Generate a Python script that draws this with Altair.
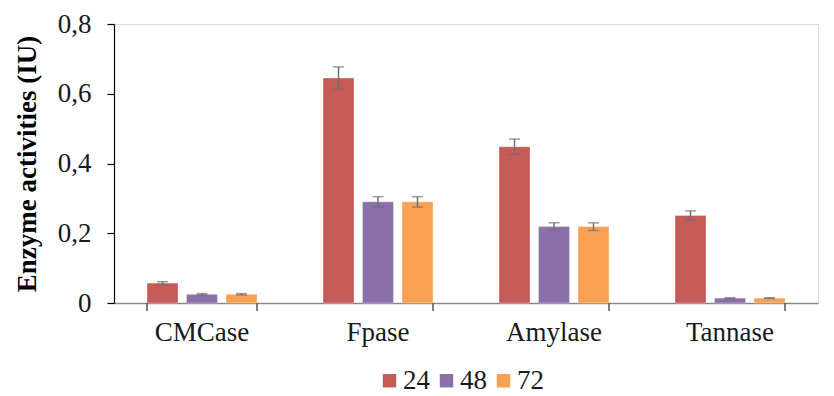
import altair as alt
import pandas as pd

categories = ["CMCase", "Fpase", "Amylase", "Tannase"]
hours = ["24", "48", "72"]
values_24 = [0.057, 0.645, 0.448, 0.251]
values_48 = [0.025, 0.290, 0.219, 0.014]
values_72 = [0.025, 0.290, 0.219, 0.014]
err_24 = [0.004, 0.032, 0.022, 0.013]
err_48 = [0.002, 0.015, 0.011, 0.001]
err_72 = [0.002, 0.015, 0.011, 0.001]
colors = ["#C55A57", "#8B6FA8", "#F9A052"]
y_ticks = [0, 0.2, 0.4, 0.6, 0.8]

rows = []
for h, vals, errs in zip(hours, [values_24, values_48, values_72], [err_24, err_48, err_72]):
    for c, v, e in zip(categories, vals, errs):
        rows.append({"cat": c, "hour": h, "value": v, "lo": v - e, "hi": v + e})
df = pd.DataFrame(rows)

FONT = "Liberation Serif"

xscale = alt.Scale(paddingInner=0.375, paddingOuter=0.1875)
xoff_scale = alt.Scale(paddingInner=0.215, paddingOuter=0)

x_enc = alt.X("cat:N", sort=categories, scale=xscale,
              axis=alt.Axis(title=None, ticks=False, labelFontSize=27, labelFont=FONT,
                            labelColor="#1a1a1a", labelPadding=16, domainColor="#868686",
                            domainWidth=1.5, labelAngle=0))
xo_enc = alt.XOffset("hour:N", sort=hours, scale=xoff_scale)

bars = alt.Chart(df).mark_bar(stroke="#ffffff", strokeOpacity=0.35, strokeWidth=1).encode(
    x=x_enc,
    xOffset=xo_enc,
    y=alt.Y("value:Q", scale=alt.Scale(domain=[0, 0.8], nice=False),
            axis=alt.Axis(title="Enzyme activities (IU)", values=y_ticks, grid=False,
                          labelExpr="datum.value == 0 ? '0' : replace(format(datum.value, '.1f'), '.', ',')",
                          labelFontSize=27, labelFont=FONT, labelColor="#1a1a1a",
                          labelPadding=16, tickSize=7, tickColor="#000000", tickWidth=1.2,
                          domainColor="#000000", domainWidth=1.2,
                          titleFont=FONT, titleFontSize=27, titleFontWeight="bold",
                          titleColor="#000000", titlePadding=16)),
    color=alt.Color("hour:N", sort=hours, scale=alt.Scale(domain=hours, range=colors),
                    legend=alt.Legend(title=None, orient="none", direction="horizontal",
                                      legendX=262, legendY=343, symbolType="square",
                                      symbolSize=180, symbolStrokeWidth=0, symbolOpacity=1,
                                      labelFontSize=27, labelFont=FONT, labelColor="#1a1a1a",
                                      labelOffset=0, columnPadding=3)),
)

err_color = "#707070"
rules = alt.Chart(df).mark_rule(color=err_color, strokeWidth=1.5).encode(
    x=alt.X("cat:N", sort=categories), xOffset=xo_enc,
    y="lo:Q", y2="hi:Q")
cap_hi = alt.Chart(df).mark_tick(color=err_color, thickness=1.5, size=11, orient="horizontal").encode(
    x=alt.X("cat:N", sort=categories), xOffset=xo_enc, y="hi:Q")
cap_lo = alt.Chart(df).mark_tick(color=err_color, thickness=1.5, size=11, orient="horizontal").encode(
    x=alt.X("cat:N", sort=categories), xOffset=xo_enc, y="lo:Q")

tick_df = pd.DataFrame({"cat": categories})
xticks_end = alt.Chart(tick_df).mark_rule(color="#555555", strokeWidth=1.5).encode(
    x=alt.X("cat:N", sort=categories, bandPosition=1),
    y=alt.value(279), y2=alt.value(287))
xticks_start = alt.Chart(tick_df.iloc[:1]).mark_rule(color="#555555", strokeWidth=1.5).encode(
    x=alt.X("cat:N", sort=categories, bandPosition=0),
    y=alt.value(279), y2=alt.value(287))

chart = alt.layer(bars, rules, cap_hi, cap_lo, xticks_end, xticks_start).properties(
    width=704, height=279,
    autosize=alt.AutoSizeParams(type="none"),
    padding={"left": 106, "top": 16, "right": 4, "bottom": 93},
).configure_view(stroke=None).configure(background="#ffffff")

chart.save("out.html", embed_options={"renderer": "svg", "actions": False})
